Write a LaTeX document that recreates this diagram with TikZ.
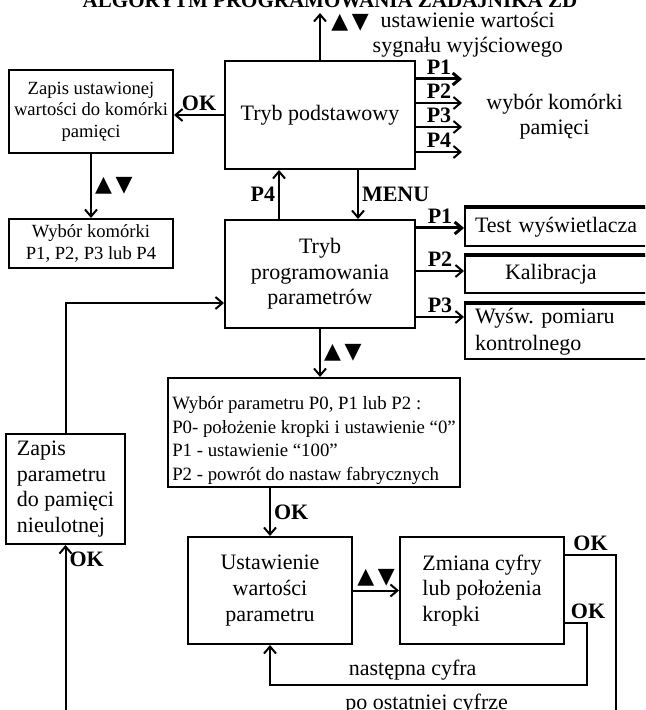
\documentclass[tikz,border=0pt]{standalone}
\usepackage{fontspec}
\setmainfont{Liberation Serif}
\newfontfamily\trifont{DejaVu Sans}
\usepackage{tikz}
\usetikzlibrary{arrows.meta,positioning}

\newcommand{\keysupdn}{{\trifont ▲\,▼}}

\begin{document}
\begin{tikzpicture}[
  x=0.5pt,y=-0.5pt,
  box/.style={draw,line width=1pt,minimum width=95pt,minimum height=54pt,align=center,inner sep=2pt,font=\fontsize{11}{12.8}\selectfont},
  cellbox/.style={box,minimum width=82pt,font=\fontsize{9.3}{10.8}\selectfont},
  sidebox/.style={box,text width=90pt,align=left,inner xsep=5pt,minimum height=19pt},
  txt/.style={inner sep=0pt,align=center,font=\fontsize{11}{12.4}\selectfont},
  lbl/.style={inner sep=1.5pt,font=\fontsize{11}{12}\selectfont\bfseries},
  keylbl/.style={inner sep=1.5pt,font=\fontsize{11}{12}\selectfont},
  arr/.style={-{Straight Barb[length=3.5pt,width=6pt]},line width=1pt},
  fat/.style={arr,line width=1.5pt},
  topedge/.style={line width=1.6pt}
]
\useasboundingbox (0,0) rectangle (645,710);
\clip (0,0) rectangle (645,710);

\node[lbl,font=\fontsize{10.5}{12}\selectfont\bfseries,anchor=base] (title) at (330,7.5) {ALGORYTM PROGRAMOWANIA ZADAJNIKA ZD};

% boxes
\node[box] (base) at (320,115) {Tryb podstawowy};
\node[box,below=24.5pt of base] (prog) {Tryb\\programowania\\parametrów};
\node[box,minimum width=146pt,minimum height=54.5pt,align=left,inner xsep=1pt,inner ysep=1pt,font=\fontsize{9.4}{11.7}\selectfont,below=24pt of prog,xshift=-3pt] (param) {\rule{0pt}{14.5pt}Wybór parametru P0, P1 lub P2 :\\P0- położenie kropki i ustawienie “0”\\P1 - ustawienie “100”\\P2 - powrót do nastaw fabrycznych};
\node[box,minimum width=82pt,minimum height=53.5pt,below right=24pt and 10pt of param.south west] (ustaw) {Ustawienie\\wartości\\parametru};
\node[box,minimum width=82pt,minimum height=53.5pt,align=left,right=23pt of ustaw] (zmiana) {Zmiana cyfry\\lub położenia\\kropki};
\node[cellbox,minimum height=41.5pt,left=25pt of base,yshift=1.75pt] (cell) {Zapis ustawionej\\wartości do komórki\\pamięci};
\node[cellbox,minimum height=24.5pt,below=32pt of cell] (wyb) {Wybór komórki\\P1, P2, P3 lub P4};
\node[box,minimum width=59.5pt,minimum height=55pt,align=left,below right=82pt and -1.5pt of wyb.south west] (save) {Zapis\\parametru\\do pamięci\\nieulotnej};
\node[sidebox,right=24pt of prog.north east,yshift=-4pt] (test) {Test wyświetlacza};
\node[sidebox,minimum height=18.5pt,below=4pt of test] (kal) {\hspace*{15pt}Kalibracja};
\node[sidebox,minimum height=25.5pt,font=\fontsize{11}{13.5}\selectfont,below=4.5pt of kal] (wysw) {Wyśw.\ pomiaru\\kontrolnego};
\draw[topedge] (test.north west) -- (test.north east);
\draw[topedge] (kal.north west) -- (kal.north east);
\draw[topedge] (wysw.north west) -- (wysw.north east);

% wyjscie
\coordinate[above=23.5pt of base.north] (out);
\draw[arr] (base.north) -- (out);
\node[keylbl,right=4pt of out,yshift=-5pt] (outkeys) {\keysupdn};
\node[txt,right=0pt of outkeys,yshift=-6pt] (outtxt) {ustawienie wartości\\sygnału wyjściowego};

% P1..P4 z trybu podstawowego
\coordinate (b1) at ([yshift=-9.5pt]base.north east);
\coordinate (b2) at ([yshift=-21.5pt]base.north east);
\coordinate (b3) at ([yshift=-33.5pt]base.north east);
\coordinate (b4) at ([yshift=-46pt]base.north east);
\coordinate (pend1) at ([xshift=23pt]b1);
\coordinate (pend2) at ([xshift=23pt]b2);
\coordinate (pend3) at ([xshift=23pt]b3);
\coordinate (pend4) at ([xshift=23pt]b4);
\draw[fat] (b1) -- node[lbl,above]{P1} (pend1);
\draw[arr] (b2) -- node[lbl,above]{P2} (pend2);
\draw[arr] (b3) -- node[lbl,above]{P3} (pend3);
\draw[arr] (b4) -- node[lbl,above]{P4} (pend4);
\node[txt,right=12pt of pend2,yshift=-7pt] (celltxt) {wybór komórki\\pamięci};

\draw[arr] (base.west) -- node[lbl,above]{OK} (base.west -| cell.east);
\draw[arr] (cell) -- node[keylbl,right]{\keysupdn} (wyb);

\draw[arr] ([xshift=-20.5pt]prog.north) -- node[lbl,left]{P4} ([xshift=-20.5pt]base.south);
\draw[arr] ([xshift=19pt]base.south) -- node[lbl,right]{MENU} ([xshift=19pt]prog.north);

% P1..P3 z trybu programowania
\coordinate (s1) at ([yshift=-4.5pt]prog.north east);
\coordinate (s2) at ([yshift=-26pt]prog.north east);
\coordinate (s3) at ([yshift=-49pt]prog.north east);
\draw[fat] (s1) -- node[lbl,above]{P1} (s1 -| test.west);
\draw[arr] (s2) -- node[lbl,above]{P2} (s2 -| kal.west);
\draw[arr] (s3) -- node[lbl,above]{P3} (s3 -| wysw.west);

\draw[arr] (prog.south) -- node[keylbl,right]{\keysupdn} (prog.south |- param.north);
\draw[arr] (ustaw.north |- param.south) -- node[lbl,right]{OK} (ustaw.north);
\draw[arr] (ustaw) -- node[keylbl,above]{\keysupdn} (zmiana);

% nastepna cyfra
\coordinate (nxs) at ([yshift=11pt]zmiana.south east);
\coordinate (nxR) at ([xshift=11pt,yshift=-20pt]zmiana.south east);
\coordinate (nxL) at (ustaw.south |- nxR);
\draw[arr] (nxs) -| node[lbl,above,pos=0.25,xshift=6pt]{OK} (nxR) -- node[txt,above=2pt,pos=0.55]{następna cyfra} (nxL) -- (ustaw.south);

% po ostatniej cyfrze
\coordinate (oks) at ([yshift=-9.5pt]zmiana.north east);
\coordinate (botR) at ([xshift=25.5pt,yshift=-40.5pt]zmiana.south east);
\coordinate (botL) at (save.south |- botR);
\draw[arr] (oks) -| node[lbl,above,pos=0.25]{OK} (botR) -- node[txt,above=5.5pt,pos=0.344]{po ostatniej cyfrze} (botL) -- node[lbl,right,pos=0.92]{OK} (save.south);

\coordinate (backin) at ([yshift=-42pt]prog.north west);
\draw[arr] (save.north) |- (backin);
\end{tikzpicture}
\end{document}
